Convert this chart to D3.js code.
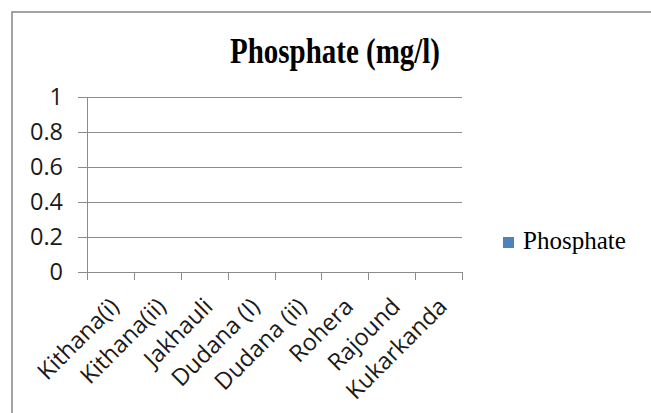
<!DOCTYPE html>
<html>
<head>
<meta charset="utf-8">
<script src="https://cdn.jsdelivr.net/npm/d3@7"></script>
<style>
  html, body { margin: 0; padding: 0; background: #ffffff; }
  svg { display: block; }
</style>
</head>
<body>
<div id="chart"></div>
<script>
const categories = ["Kithana(i)", "Kithana(ii)", "Jakhauli", "Dudana (I)", "Dudana (ii)", "Rohera", "Rajound", "Kukarkanda"];
const phosphateValues = [0, 0, 0, 0, 0, 0, 0, 0];
const yTickValues = [0, 0.2, 0.4, 0.6, 0.8, 1];
const yTickLabels = ["0", "0.2", "0.4", "0.6", "0.8", "1"];
const seriesName = "Phosphate";
const chartTitle = "Phosphate (mg/l)";

const W = 651, H = 413;
const svg = d3.select("#chart").append("svg").attr("width", W).attr("height", H);

// chart border
svg.append("rect")
  .attr("x", 12).attr("y", 12).attr("width", 700).attr("height", 450)
  .attr("fill", "#ffffff").attr("stroke", "#9a9a9a").attr("stroke-width", 1.8);

const x = d3.scaleBand().domain(categories).range([87, 462]).paddingInner(0.5).paddingOuter(0.25);
const xb = d3.scaleBand().domain(categories).range([87, 462]);
const y = d3.scaleLinear().domain([0, 1]).range([272, 97]);

const gridColor = "#8c8c8c";

// gridlines
svg.append("g").selectAll("line").data(yTickValues).join("line")
  .attr("x1", 78).attr("x2", 462)
  .attr("y1", d => Math.round(y(d)) + 0.5).attr("y2", d => Math.round(y(d)) + 0.5)
  .attr("stroke", gridColor).attr("stroke-width", 1);

// y axis line
svg.append("line")
  .attr("x1", 87.5).attr("x2", 87.5).attr("y1", y(1)).attr("y2", y(0))
  .attr("stroke", gridColor).attr("stroke-width", 1);

// x tick marks at category boundaries
const bounds = categories.map(c => xb(c)).concat([xb(categories[categories.length - 1]) + xb.bandwidth()]);
svg.append("g").selectAll("line").data(bounds).join("line")
  .attr("x1", d => Math.round(d) + 0.5).attr("x2", d => Math.round(d) + 0.5)
  .attr("y1", y(0)).attr("y2", y(0) + 8)
  .attr("stroke", gridColor).attr("stroke-width", 1);

// bars (all zero)
svg.append("g").selectAll("rect").data(phosphateValues).join("rect")
  .attr("x", (d, i) => x(categories[i]))
  .attr("width", x.bandwidth())
  .attr("y", d => y(d))
  .attr("height", d => y(0) - y(d))
  .attr("fill", "#4f81bd");

// y labels
svg.append("g").selectAll("text").data(yTickValues).join("text")
  .attr("x", 63).attr("y", d => y(d)).attr("dy", "0.36em")
  .attr("text-anchor", "end")
  .attr("font-family", "'Open Sans', sans-serif").attr("font-size", 23.5)
  .attr("fill", "#1a1a1a")
  .text((d, i) => yTickLabels[i]);

// x labels
svg.append("g").selectAll("text").data(categories).join("text")
  .attr("transform", d => `translate(${xb(d) + xb.bandwidth() / 2 + 4},${y(0) + 30}) rotate(-45)`)
  .attr("dy", "0.36em")
  .attr("text-anchor", "end")
  .attr("font-family", "'Open Sans', sans-serif").attr("font-size", 23.5)
  .attr("fill", "#1a1a1a")
  .text(d => d);

// title
svg.append("text")
  .attr("x", 335).attr("y", 63)
  .attr("text-anchor", "middle")
  .attr("font-family", "'Liberation Serif', 'Times New Roman', serif")
  .attr("font-weight", "bold").attr("font-size", 35)
  .attr("textLength", 210).attr("lengthAdjust", "spacingAndGlyphs")
  .attr("fill", "#000000")
  .text(chartTitle);

// legend
svg.append("rect").attr("x", 503).attr("y", 237).attr("width", 11).attr("height", 11).attr("fill", "#4f81bd");
svg.append("text")
  .attr("x", 523).attr("y", 249)
  .attr("font-family", "'Liberation Serif', 'Times New Roman', serif")
  .attr("font-size", 25)
  .attr("fill", "#000000")
  .text(seriesName);
</script>
</body>
</html>
